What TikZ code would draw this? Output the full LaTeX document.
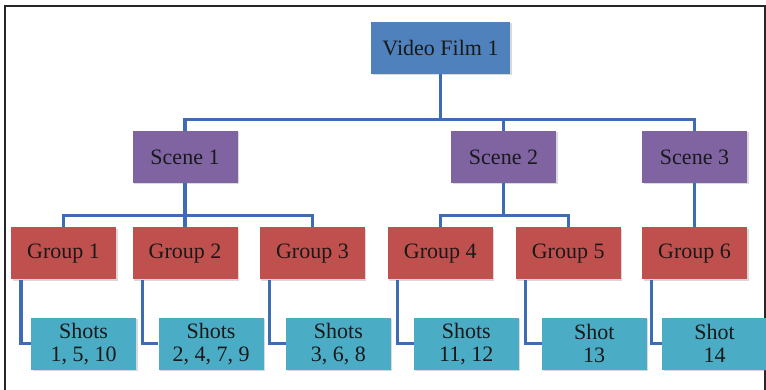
\documentclass[tikz,border=0pt]{standalone}
\usepackage{fontspec}
\setmainfont{Liberation Serif}
\usepackage{tikz}
\usetikzlibrary{positioning}
\usetikzlibrary{shadows}

\definecolor{filmblue}{RGB}{79,129,189}
\definecolor{scenepurple}{RGB}{128,100,162}
\definecolor{groupred}{RGB}{192,80,77}
\definecolor{shotcyan}{RGB}{75,172,198}
\definecolor{linkblue}{RGB}{62,108,178}

\tikzset{
  box/.style={minimum width=105pt, minimum height=52pt, inner sep=2pt,
    font=\fontsize{22}{23}\selectfont, text=black!90, align=center,
    drop shadow={shadow xshift=1.5pt, shadow yshift=-1.5pt, opacity=0.3}},
  film/.style={box, fill=filmblue, minimum width=139pt},
  scene/.style={box, fill=scenepurple},
  grp/.style={box, fill=groupred},
  shots/.style={box, fill=shotcyan},
  link/.style={draw=linkblue, line width=3.2pt},
}

\begin{document}
\begin{tikzpicture}[x=1pt, y=-1pt]
      \useasboundingbox (0,0) rectangle (766,390);
      % frame
      \draw[line width=2.4pt, black!85] (5,392) -- (5,6) -- (765,6) -- (765,392);

      \node[film] (vid) at (440.5,48) {Video Film 1};

      \node[scene] (sc1) at (185,157) {Scene 1};
      \node[scene] (sc2) at (503.5,157) {Scene 2};
      \node[scene] (sc3) at (694.5,157) {Scene 3};

      \node[grp, below=44pt of sc1] (g2) {Group 2};
      \node[grp, left=16pt of g2] (g1) {Group 1};
      \node[grp, right=22pt of g2] (g3) {Group 3};
      \node[grp, right=22.5pt of g3] (g4) {Group 4};
      \node[grp, right=22.5pt of g4] (g5) {Group 5};
      \node[grp, below=44pt of sc3] (g6) {Group 6};

      \node[shots, below=38pt of g1, xshift=20pt] (s1) {Shots\\1, 5, 10};
      \node[shots, below=38pt of g2, xshift=26pt] (s2) {Shots\\2, 4, 7, 9};
      \node[shots, below=38pt of g3, xshift=26pt] (s3) {Shots\\3, 6, 8};
      \node[shots, below=38pt of g4, xshift=26pt] (s4) {Shots\\11, 12};
      \node[shots, below=38pt of g5, xshift=26pt] (s5) {Shot\\13};
      \node[shots, below=38pt of g6, xshift=20pt] (s6) {Shot\\14};

      % film to scenes
      \draw[link] (vid.south) -- ++(0,45) -| (sc1.north);
      \draw[link] (vid.south) -- ++(0,45) -| (sc2.north);
      \draw[link] (vid.south) -- ++(0,45) -| (sc3.north);

      % scenes to groups
      \draw[link] (sc1.south) -- ++(0,32) -| (g1.north);
      \draw[link] (sc1.south) -- (g2.north);
      \draw[link] (sc1.south) -- ++(0,32) -| (g3.north);
      \draw[link] (sc2.south) -- ++(0,32) -| (g4.north);
      \draw[link] (sc2.south) -- ++(0,32) -| (g5.north);
      \draw[link] (sc3.south) -- (g6.north);

      % groups to shots
      \draw[link] ([xshift=10pt]g1.south west) |- (s1.west);
      \draw[link] ([xshift=10pt]g2.south west) |- (s2.west);
      \draw[link] ([xshift=10pt]g3.south west) |- (s3.west);
      \draw[link] ([xshift=10pt]g4.south west) |- (s4.west);
      \draw[link] ([xshift=10pt]g5.south west) |- (s5.west);
      \draw[link] ([xshift=10pt]g6.south west) |- (s6.west);
\end{tikzpicture}
\end{document}
